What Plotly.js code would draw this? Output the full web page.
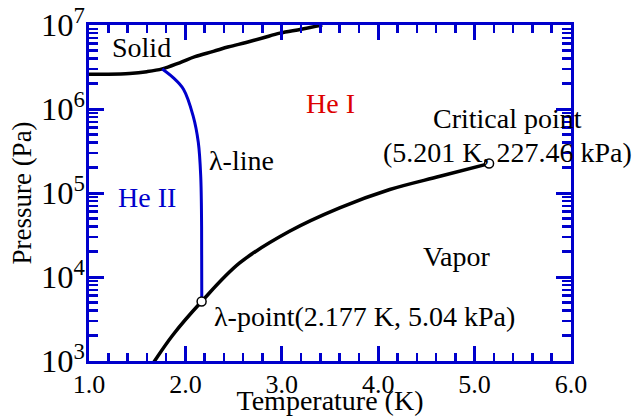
<!DOCTYPE html>
<html>
<head>
<meta charset="utf-8">
<script src="https://cdn.plot.ly/plotly-3.0.1.min.js"></script>
<style>html,body{margin:0;padding:0;background:#fff;}#chart{width:636px;height:416px;}</style>
</head>
<body>
<div id="chart"></div>
<script>
// Melting curve (solid boundary)
var meltT = [1.0, 1.2, 1.42, 1.6, 1.76, 1.94, 2.1, 2.29, 2.45, 2.63, 2.8, 2.98, 3.2, 3.42];
var meltP = [2.6e6, 2.6e6, 2.65e6, 2.78e6, 3.0e6, 3.55e6, 4.2e6, 4.85e6, 5.5e6, 6.2e6, 7.0e6, 8.0e6, 8.9e6, 1.0e7];
// Lambda line
var lambdaT = [1.76, 1.87, 1.98, 2.08, 2.134, 2.159, 2.168, 2.17];
var lambdaP = [3.0e6, 2.38e6, 1.72e6, 8.3e5, 4.0e5, 1.58e5, 4.0e4, 5.1e3];
// Vapor pressure curve
var vapT = [1.67, 1.87, 2.168, 2.563, 3.08, 3.60, 4.12, 4.64, 5.15];
var vapP = [9.6e2, 2.04e3, 5.1e3, 1.47e4, 3.5e4, 6.65e4, 1.1e5, 1.58e5, 2.24e5];
// Special points
var pointT = [2.168, 5.15];
var pointP = [5.1e3, 2.24e5];

var blue = '#0000cc';
var serif = 'Liberation Serif, Times New Roman, serif';

var traces = [
  {x: meltT, y: meltP, mode: 'lines', line: {color: '#000', width: 3.5, shape: 'spline'}, hoverinfo: 'skip'},
  {x: lambdaT, y: lambdaP, mode: 'lines', line: {color: blue, width: 3, shape: 'spline'}, hoverinfo: 'skip'},
  {x: vapT, y: vapP, mode: 'lines', line: {color: '#000', width: 3.5, shape: 'spline'}, hoverinfo: 'skip'},
  {x: pointT, y: pointP, mode: 'markers', marker: {color: '#fff', size: 9, line: {color: '#000', width: 1.5}}, hoverinfo: 'skip', cliponaxis: false}
];

function ann(text, x, y, color, xanchor) {
  return {text: text, x: x, y: y, xref: 'paper', yref: 'paper', showarrow: false,
          xanchor: xanchor || 'center', yanchor: 'middle',
          font: {family: serif, size: 28, color: color || '#000'}};
}

var layout = {
  width: 636, height: 416,
  margin: {l: 89, r: 65, t: 25, b: 55},
  paper_bgcolor: '#fff', plot_bgcolor: '#fff',
  showlegend: false,
  font: {family: serif, color: '#000'},
  xaxis: {
    range: [1, 6], dtick: 1, tick0: 1, tickformat: '.1f',
    ticks: 'inside', ticklen: 15, tickwidth: 3, tickcolor: blue,
    showline: true, linecolor: blue, linewidth: 3, mirror: 'allticks',
    showgrid: false, zeroline: false,
    tickfont: {family: serif, size: 26, color: '#000'},
    ticklabelstandoff: -2,
    minor: {dtick: 0.2, ticks: 'inside', ticklen: 8, tickwidth: 2.5, tickcolor: blue, showgrid: false},
    title: {text: 'Temperature (K)', font: {family: serif, size: 28, color: '#000'}, standoff: 2}
  },
  yaxis: {
    type: 'log', range: [3, 7], dtick: 1, exponentformat: 'power',
    ticks: 'inside', ticklen: 15, tickwidth: 3, tickcolor: blue,
    showline: true, linecolor: blue, linewidth: 3, mirror: 'allticks',
    showgrid: false, zeroline: false,
    tickfont: {family: serif, size: 26, color: '#000'},
    ticklabelstandoff: -4,
    minor: {dtick: 'D1', ticks: 'inside', ticklen: 9, tickwidth: 2.5, tickcolor: blue, showgrid: false},
    title: {text: 'Pressure (Pa)', font: {family: serif, size: 27, color: '#000'}, standoff: 2}
  },
  annotations: [
    ann('Solid', 0.108, 0.934),
    ann('He I', 0.5, 0.765, '#dd0000'),
    ann('\u03bb-line', 0.317, 0.598),
    ann('He II', 0.120, 0.488, blue),
    ann('Critical point', 0.869, 0.723),
    ann('(5.201 K, 227.46 kPa)', 0.869, 0.622),
    ann('Vapor', 0.763, 0.3125),
    ann('\u03bb-point(2.177 K, 5.04 kPa)', 0.255, 0.131, '#000', 'left')
  ]
};

Plotly.newPlot('chart', traces, layout, {staticPlot: true, displayModeBar: false});
</script>
</body>
</html>
